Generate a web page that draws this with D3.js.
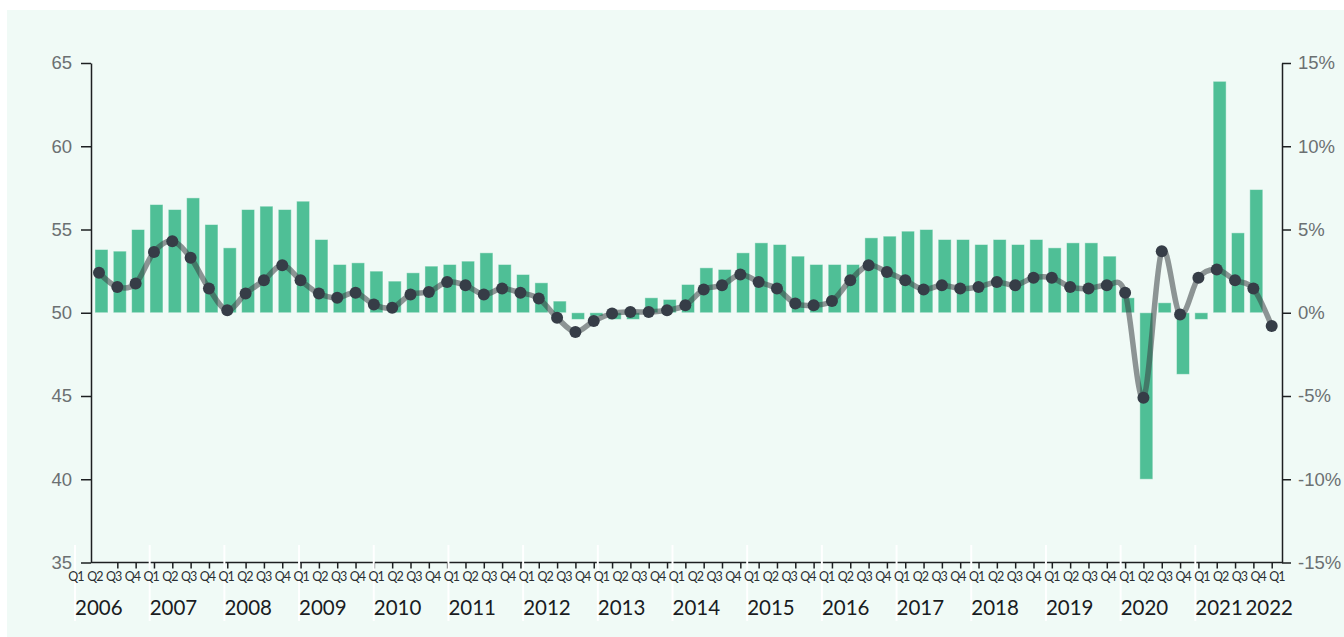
<!DOCTYPE html>
<html>
<head>
<meta charset="utf-8">
<script src="https://cdn.jsdelivr.net/npm/d3@7"></script>
<style>
  body { margin: 0; background: #fff; }
  svg { display: block; font-family: Lato, "Open Sans", sans-serif; }
</style>
</head>
<body>
<svg id="chart" width="1344" height="637"></svg>
<script>
// ---- data ----
const years = [2006, 2007, 2008, 2009, 2010, 2011, 2012, 2013, 2014, 2015, 2016, 2017, 2018, 2019, 2020, 2021, 2022]
const quarterNames = ["Q1", "Q2", "Q3", "Q4"]

// bars, left axis (index level, base 50); last quarter has no bar
const barValues = [
  53.8, 53.7, 55.0, 56.5,
  56.2, 56.9, 55.3, 53.9,
  56.2, 56.4, 56.2, 56.7,
  54.4, 52.9, 53.0, 52.5,
  51.9, 52.4, 52.8, 52.9,
  53.1, 53.6, 52.9, 52.3,
  51.8, 50.7, 49.6, 49.8,
  49.6, 49.6, 50.9, 50.8,
  51.7, 52.7, 52.6, 53.6,
  54.2, 54.1, 53.4, 52.9,
  52.9, 52.9, 54.5, 54.6,
  54.9, 55.0, 54.4, 54.4,
  54.1, 54.4, 54.1, 54.4,
  53.9, 54.2, 54.2, 53.4,
  50.9, 40.0, 50.6, 46.3,
  49.6, 63.9, 54.8, 57.4,
  null
]

// line, right axis (%)
const lineValues = [
  2.4, 1.55, 1.75, 3.65,
  4.3, 3.3, 1.45, 0.15,
  1.15, 1.95, 2.85, 1.95,
  1.15, 0.9, 1.2, 0.5,
  0.3, 1.1, 1.25, 1.85,
  1.65, 1.1, 1.45, 1.2,
  0.85, -0.3, -1.15, -0.5,
  -0.05, 0.05, 0.05, 0.15,
  0.45, 1.4, 1.65, 2.3,
  1.85, 1.45, 0.55, 0.45,
  0.7, 1.95, 2.85, 2.45,
  1.95, 1.4, 1.65, 1.45,
  1.55, 1.85, 1.65, 2.1,
  2.1, 1.55, 1.45, 1.65,
  1.2, -5.1, 3.7, -0.1,
  2.1, 2.6, 1.95, 1.45,
  -0.8
]

const leftTicks = [35, 40, 45, 50, 55, 60, 65]
const rightTicks = [-15, -10, -5, 0, 5, 10, 15]

// quarters 2006 Q1 .. 2022 Q1
const quarters = []
years.forEach(y => quarterNames.forEach((q, i) => {
  if (y < 2022 || i === 0) quarters.push({ year: y, q: q })
}))
const data = quarters.map((d, i) => Object.assign({}, d, { idx: i, bar: barValues[i], line: lineValues[i] }))
const idxs = data.map(d => d.idx)

// ---- layout ----
const svg = d3.select("#chart")
const width = +svg.attr("width")
const height = +svg.attr("height")
const plot = { left: 91, right: 1282, top: 63, bottom: 562.5 }

svg.append("rect")
  .attr("x", 7).attr("y", 10)
  .attr("width", width - 7).attr("height", height - 10)
  .attr("fill", "#f0faf6")

// ---- scales ----
const yLeft = d3.scaleLinear().domain([35, 65]).range([plot.bottom, plot.top])
const yRight = d3.scaleLinear().domain([-15, 15]).range([plot.bottom, plot.top])

const xBar = d3.scaleBand()
  .domain(idxs)
  .range([92.3, 1283.8])
  .paddingInner(0.29)
  .paddingOuter(0.145)

const xPt = d3.scalePoint().domain(idxs).range([99, 1271.7])   // dots + ticks
const xLab = d3.scalePoint().domain(idxs).range([76, 1277])     // quarter labels
const xYear = d3.scaleLinear().domain([2006, 2022]).range([75, 1270])

// ---- axes ----
const axisColor = "#1d1f21"
const tickText = "#6b7072"

const leftG = svg.append("g")
  .attr("transform", `translate(${plot.left},0)`)
  .call(d3.axisLeft(yLeft).tickValues(leftTicks).tickSize(10).tickSizeOuter(0).tickPadding(9))
leftG.select(".domain").attr("stroke", axisColor).attr("stroke-width", 1.5)
leftG.selectAll(".tick line").attr("stroke", axisColor).attr("stroke-width", 1.5)
leftG.selectAll(".tick text").attr("fill", tickText).style("font-size", "18.5px").style("font-weight", 300)

const rightG = svg.append("g")
  .attr("transform", `translate(${plot.right},0)`)
  .call(d3.axisRight(yRight).tickValues(rightTicks).tickFormat(d => d + "%").tickSize(9).tickSizeOuter(0).tickPadding(7))
rightG.select(".domain").attr("stroke", axisColor).attr("stroke-width", 1.5)
rightG.selectAll(".tick line").attr("stroke", axisColor).attr("stroke-width", 1.5)
rightG.selectAll(".tick text").attr("fill", tickText).style("font-size", "18.5px").style("font-weight", 300)

const bottomG = svg.append("g")
  .attr("transform", `translate(0,${plot.bottom})`)
  .call(d3.axisBottom(xPt).tickValues(idxs.slice(1)).tickSize(6).tickSizeOuter(0).tickFormat(""))
bottomG.select(".domain").remove()
bottomG.selectAll(".tick line").attr("stroke", axisColor).attr("stroke-width", 1.5)
bottomG.append("line")
  .attr("x1", plot.left).attr("x2", plot.right)
  .attr("stroke", axisColor).attr("stroke-width", 1.5)

// year separators (under the labels)
const sepYears = years.filter(y => y < 2022)
svg.append("g").selectAll("line")
  .data(sepYears)
  .enter().append("line")
  .attr("x1", d => xYear(d)).attr("x2", d => xYear(d))
  .attr("y1", 545).attr("y2", 621)
  .attr("stroke", "#ffffff").attr("stroke-width", 2)

// quarter labels
svg.append("g").selectAll("text")
  .data(data)
  .enter().append("text")
  .attr("x", d => xLab(d.idx))
  .attr("y", 581)
  .attr("text-anchor", "middle")
  .attr("fill", "#2a2e31")
  .style("font-size", "12.5px")
  .style("letter-spacing", "-1px")
  .text(d => d.q)

// year labels
svg.append("g").selectAll("text")
  .data(years)
  .enter().append("text")
  .attr("x", d => d === 2022 ? plot.right + 11 : xYear(d))
  .attr("y", 615)
  .attr("text-anchor", d => d === 2022 ? "end" : "start")
  .attr("fill", "#1a1c1f")
  .style("font-size", "20.5px")
  .text(d => d)

// ---- bars ----
svg.append("g").selectAll("rect")
  .data(data.filter(d => d.bar !== null))
  .enter().append("rect")
  .attr("x", d => xBar(d.idx))
  .attr("width", xBar.bandwidth())
  .attr("y", d => Math.min(yLeft(d.bar), yLeft(50)))
  .attr("height", d => Math.abs(yLeft(d.bar) - yLeft(50)))
  .attr("fill", "#4fbf96")
  .attr("stroke", "rgba(255,255,255,0.45)")
  .attr("stroke-width", 1)

// ---- line + dots ----
const line = d3.line()
  .x(d => xPt(d.idx))
  .y(d => yRight(d.line))
  .curve(d3.curveCardinal)

svg.append("path")
  .datum(data)
  .attr("d", line)
  .attr("fill", "none")
  .attr("stroke", "#3a3f44")
  .attr("stroke-opacity", 0.55)
  .attr("stroke-width", 5.5)
  .attr("stroke-linejoin", "round")

svg.append("g").selectAll("circle")
  .data(data)
  .enter().append("circle")
  .attr("cx", d => xPt(d.idx))
  .attr("cy", d => yRight(d.line))
  .attr("r", 6)
  .attr("fill", "#363d47")
</script>
</body>
</html>
